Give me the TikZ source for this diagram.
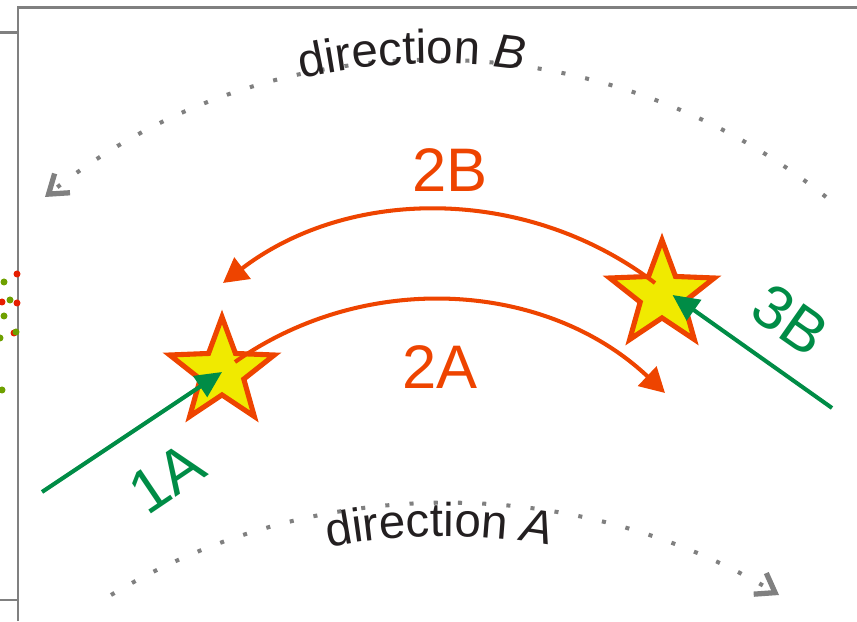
\documentclass[tikz,border=0pt]{standalone}
\usepackage{fontspec}
\setmainfont{Liberation Sans}
\usepackage{tikz}
\usetikzlibrary{shapes.geometric,arrows.meta,decorations.text}
\definecolor{hitorange}{RGB}{238,68,0}
\definecolor{hitgreen}{RGB}{0,140,70}
\definecolor{staryellow}{RGB}{240,234,0}
\definecolor{dirgray}{RGB}{128,128,128}
\definecolor{txtgray}{RGB}{35,31,32}
\definecolor{dotred}{RGB}{230,30,0}
\definecolor{dotgreen}{RGB}{110,160,0}
\tikzset{node distance=2.0cm, auto}
\tikzset{
  starbox/.style={star, star points=5, star point ratio=2.4, minimum size=2.2cm,
    inner sep=0pt, draw=hitorange, fill=staryellow, line width=2.9pt},
  hop/.style={draw=hitorange, line width=2.3pt, -{Triangle[length=14pt,width=15pt]}},
  entry/.style={draw=hitgreen, line width=2.3pt, -{Triangle[length=15pt,width=14pt]}},
  dirline/.style={draw=dirgray, line width=2.3pt, dash pattern=on 2.3pt off 11.5pt,
    -{Straight Barb[length=10pt,width=14pt,line width=3pt]}},
  lbl/.style={font=\fontsize{35}{40}\selectfont, inner sep=0pt},
  frame/.style={draw=dirgray, line width=1.7pt}
}

\begin{document}
\begin{tikzpicture}[x=0.02cm, y=0.02cm]
\useasboundingbox (0,0) rectangle (857,621);

\draw[frame] (0,588) -- (18,588);
\draw[frame] (0,21) -- (18,21);
\draw[frame] (18,0) -- (18,613) -- (857,613);
\foreach \px/\py in {17/347, 2/319, 17/318, 14/288}
  \fill[dotred] (\px,\py) circle (3.5);
\foreach \px/\py in {4/339, 10/321, 4/305, 0/283, 16/289, 2/231}
  \fill[dotgreen] (\px,\py) circle (3.5);

\node[starbox] (hit1) at (222,249) {};
\node[starbox] (hit2) at (662,326) {};

\coordinate (dirBstart) at (826,424);
\coordinate (dirBend) at (45,424);
\coordinate (dirAstart) at (111,26);
\coordinate (dirAend) at (779,26);
\coordinate (dirBctr) at (435,-63);
\coordinate (dirActr) at (445,-533);

\draw[dirline] (dirBstart) to[bend right=38.7, looseness=0.957] (dirBend);
\draw[dirline] (dirAstart) to[bend left=30.9, looseness=0.916] (dirAend);

\path[decorate, decoration={text along path, text align=center, text color=txtgray,
  text={|\fontsize{27}{32}\selectfont|direction |+\itshape|B}}]
  ([shift={(112.1:12.41cm)}]dirBctr) arc[start angle=112.1, end angle=72.1, radius=12.41cm];
\path[decorate, decoration={text along path, text align=center, text color=txtgray,
  text={|\fontsize{27}{32}\selectfont|direction |+\itshape|A}}]
  ([shift={(110.5:12.36cm)}]dirActr) arc[start angle=110.5, end angle=70.5, radius=12.36cm];

\coordinate (from2A) at (235,259);
\coordinate (to2A) at (665,228);
\coordinate (from2B) at (655,338);
\coordinate (to2B) at (223,338);
\draw[hop] (from2A) to[bend left=39.3, looseness=0.96] (to2A);
\draw[hop] (from2B) to[bend right=37.35, looseness=0.95] (to2B);

\coordinate (src1A) at (42,129);
\coordinate (src3B) at (832,213);
\draw[entry] (src1A) -- (hit1.center);
\draw[entry] (src3B) -- ([xshift=6]hit2.center);

\node[lbl, text=hitorange] (lab2B) at (450,451) {2B};
\node[lbl, text=hitorange] (lab2A) at (440,254) {2A};
\node[lbl, text=hitgreen, rotate=34] (lab1A) at (167,143) {1A};
\node[lbl, text=hitgreen, rotate=-35] (lab3B) at (790,301) {3B};
\end{tikzpicture}
\end{document}
